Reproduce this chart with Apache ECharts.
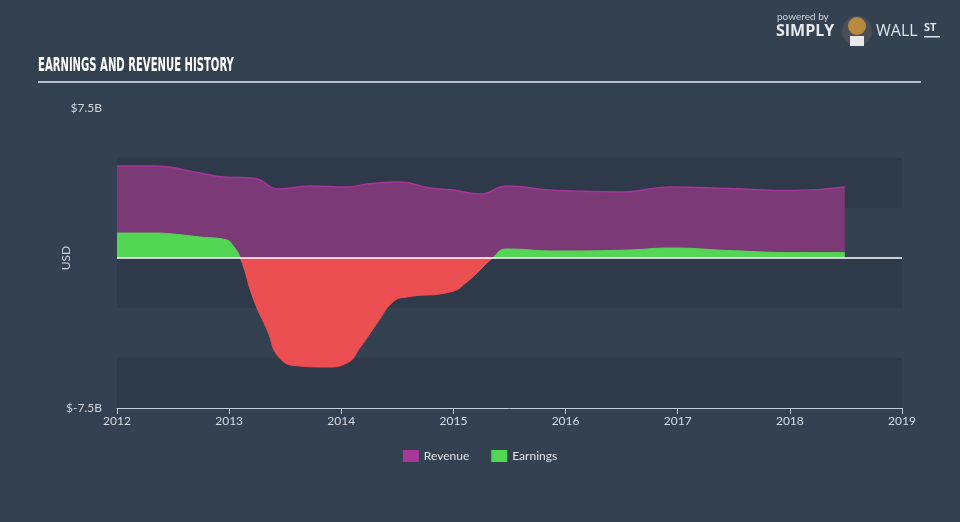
<!DOCTYPE html>
<html><head><meta charset="utf-8">
<script src="https://cdn.jsdelivr.net/npm/echarts@6/dist/echarts.min.js"></script>
<style>html,body{margin:0;padding:0;background:#344151;}#c{width:960px;height:522px;}</style>
</head><body><div id="c"></div>
<script>
// Revenue (USD billions) — [year, value]
var revYears = [2012.0, 2012.32, 2012.74, 2012.95, 2013.21, 2013.45, 2013.72, 2014.05, 2014.23, 2014.52, 2014.79, 2015.0, 2015.24, 2015.48, 2015.92, 2016.51, 2016.93, 2017.47, 2018.03, 2018.49];
var revValues = [4.6, 4.6, 4.25, 4.05, 4.0, 3.45, 3.6, 3.55, 3.7, 3.8, 3.5, 3.4, 3.2, 3.6, 3.37, 3.3, 3.55, 3.47, 3.37, 3.55];
// Earnings (USD billions)
var earnYears = [2012.0, 2012.32, 2012.45, 2012.74, 2012.98, 2013.03, 2013.1, 2013.22, 2013.34, 2013.45, 2013.63, 2013.87, 2014.05, 2014.17, 2014.32, 2014.46, 2014.58, 2014.97, 2015.12, 2015.35, 2015.47, 2015.92, 2016.57, 2016.93, 2017.47, 2018.03, 2018.49];
var earnValues = [1.25, 1.25, 1.22, 1.05, 0.9, 0.65, 0.0, -2.1, -3.6, -5.0, -5.4, -5.45, -5.25, -4.45, -3.25, -2.2, -1.95, -1.7, -1.2, 0.0, 0.45, 0.35, 0.4, 0.5, 0.37, 0.27, 0.27];
var xTicks = [2012, 2013, 2014, 2015, 2016, 2017, 2018, 2019];
var yTickLabels = {'-7.5': '$-7.5B', '7.5': '$7.5B'};

function pairs(xs, ys){ return xs.map(function(x,i){ return [x, ys[i]]; }); }

var GRID_TOP = 108, GRID_BOTTOM = 114, H = 522;
var zeroFrac = 0.5; // zero is the middle of the symmetric y range
var signGradient = {
  type: 'linear', global: true, x: 0, y: GRID_TOP, x2: 0, y2: H - GRID_BOTTOM,
  colorStops: [
    {offset: 0, color: '#53d654'}, {offset: zeroFrac, color: '#53d654'},
    {offset: zeroFrac, color: '#ec4f51'}, {offset: 1, color: '#ec4f51'}
  ]
};

var chart = echarts.init(document.getElementById('c'));
chart.setOption({
  backgroundColor: '#344151',
  animation: false,
  grid: {left: 117, right: 58, top: GRID_TOP, bottom: GRID_BOTTOM},
  legend: {
    data: ['Revenue', 'Earnings'], bottom: 55, left: 'center',
    icon: 'rect', itemWidth: 16, itemHeight: 12, itemGap: 22,
    textStyle: {color: '#e0e4ea', fontSize: 12, fontFamily: 'Lato, sans-serif'}
  },
  xAxis: {
    type: 'value', min: 2012, max: 2019, interval: 1,
    axisLine: {onZero: false, lineStyle: {color: '#c4ccd8', width: 1}},
    axisTick: {show: true, length: 6, lineStyle: {color: '#c4ccd8'}},
    axisLabel: {color: '#d8dde4', fontSize: 12, fontFamily: 'Lato, sans-serif', margin: 7,
      formatter: function(v){ return xTicks.indexOf(v) >= 0 ? String(v) : ''; }},
    splitLine: {show: false}
  },
  yAxis: {
    type: 'value', min: -7.5, max: 7.5, interval: 2.5,
    name: 'USD', nameLocation: 'middle', nameGap: 45, nameMoveOverlap: false,
    nameTextStyle: {color: '#d0d5dc', fontSize: 12, fontFamily: 'Lato, sans-serif'},
    axisLine: {show: false}, axisTick: {show: false},
    axisLabel: {color: '#d0d5dc', fontSize: 12, fontFamily: 'Lato, sans-serif', margin: 15,
      formatter: function(v){ return yTickLabels[String(v)] || ''; }},
    splitLine: {show: false},
    splitArea: {show: true, areaStyle: {color: ['rgba(20,28,40,0.18)', 'rgba(0,0,0,0)']}}
  },
  graphic: [
    {type: 'text', left: 38, top: 56, scaleX: 0.56, originX: 0,
      style: {text: 'EARNINGS AND REVENUE HISTORY', fill: '#ffffff',
      font: 'bold 20px "DejaVu Sans Condensed", "Liberation Sans Narrow", sans-serif'}},
    {type: 'rect', left: 38, top: 81, shape: {width: 883, height: 2}, style: {fill: '#b9bfc7'}},
    {type: 'text', left: 777, top: 12, style: {text: 'powered by', fill: '#d0d4da', font: '10px Lato, sans-serif'}},
    {type: 'text', left: 776, top: 23, style: {text: 'SIMPLY', fill: '#e8eaee', font: 'bold 16px "Open Sans", sans-serif'}},
    {type: 'circle', shape: {cx: 857, cy: 31, r: 15}, style: {fill: '#4a4f57'}},
    {type: 'circle', shape: {cx: 857, cy: 26, r: 9}, style: {fill: '#b98a3e'}},
    {type: 'rect', shape: {x: 850, y: 36, width: 14, height: 10}, style: {fill: '#e8e8e8'}},
    {type: 'text', left: 876, top: 23, style: {text: 'WALL', fill: '#e0e3e8', font: '16px "Open Sans", sans-serif'}},
    {type: 'text', left: 924, top: 22, style: {text: 'ST', fill: '#e0e3e8', font: 'bold 11px "Open Sans", sans-serif'}},
    {type: 'rect', left: 924, top: 36, shape: {width: 16, height: 1.5}, style: {fill: '#e0e3e8'}}
  ],
  series: [
    {
      name: 'Revenue', type: 'line', data: pairs(revYears, revValues),
      smooth: 0.5, showSymbol: false, symbol: 'none',
      itemStyle: {color: '#a8399c'},
      lineStyle: {color: '#a8339c', width: 1.5},
      areaStyle: {color: '#7b3a76', opacity: 1}
    },
    {
      name: 'Earnings', type: 'line', data: pairs(earnYears, earnValues),
      smooth: 0.5, showSymbol: false, symbol: 'none',
      itemStyle: {color: '#53d654'},
      lineStyle: {width: 1, color: signGradient},
      areaStyle: {opacity: 1, color: signGradient},
      markLine: {silent: true, symbol: 'none', label: {show: false},
        lineStyle: {color: '#ffffff', width: 1.5, type: 'solid'},
        data: [{yAxis: 0}]}
    }
  ]
});
</script></body></html>
